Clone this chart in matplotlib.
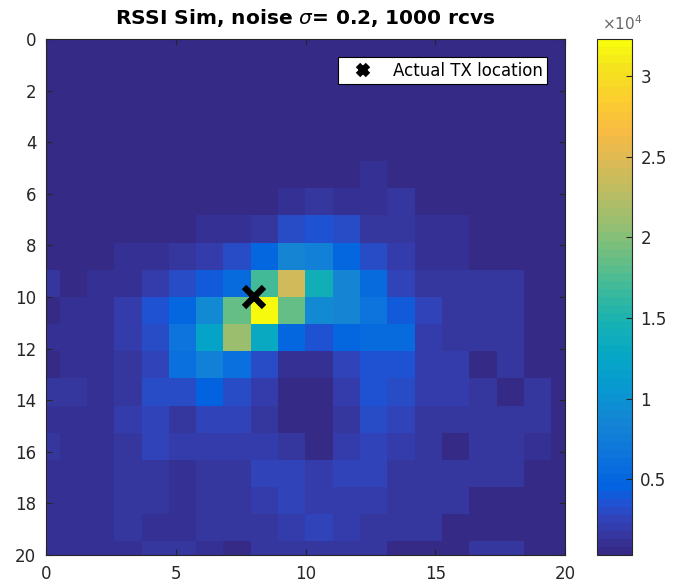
import numpy as np
import matplotlib
matplotlib.use("Agg")
import matplotlib.pyplot as plt
from matplotlib.colors import LinearSegmentedColormap

# received-signal counts on a 20x20 grid (row = y cell, col = x cell)
counts = [
    [550] * 20,
    [550] * 20,
    [550] * 20,
    [550] * 20,
    [550] * 20,
    [550, 550, 550, 550, 550, 550, 550, 550, 550, 550, 550, 550, 1000, 550, 550, 550, 550, 550, 550, 550],
    [550, 550, 550, 550, 550, 550, 550, 550, 550, 1000, 1400, 1000, 1000, 1400, 550, 550, 550, 550, 550, 550],
    [550, 550, 550, 550, 550, 550, 1000, 1000, 1600, 2900, 3400, 2900, 1400, 1600, 1000, 1000, 550, 550, 550, 550],
    [550, 550, 550, 1000, 1000, 1600, 2100, 2900, 4900, 8400, 7900, 4900, 2900, 2100, 1000, 1000, 550, 550, 550, 550],
    [1400, 550, 1000, 1000, 2100, 2900, 3900, 5400, 16900, 23900, 13900, 8400, 5400, 2300, 1400, 1400, 1400, 1400, 550, 550],
    [300, 1000, 1000, 1900, 3400, 4900, 8900, 18400, 32300, 18400, 8900, 8400, 6400, 3900, 2500, 1400, 1400, 1400, 550, 550],
    [1000, 1000, 1000, 2100, 2900, 6400, 11900, 20900, 12900, 4900, 3400, 4900, 5400, 5400, 2100, 1600, 1600, 1400, 550, 550],
    [300, 1000, 1000, 1600, 2500, 5900, 7900, 5900, 2900, 1000, 1000, 2300, 3400, 3400, 1900, 1900, 550, 1400, 550, 550],
    [1400, 1600, 1000, 1600, 2900, 2900, 4400, 2900, 2100, 300, 300, 1900, 3400, 2900, 1900, 1900, 1400, 300, 1400, 550],
    [1000, 1000, 1000, 2100, 2700, 1600, 2500, 2500, 1600, 300, 300, 1400, 2900, 2700, 1600, 1400, 1400, 1400, 1400, 550],
    [1600, 1000, 1000, 1600, 2700, 2100, 2100, 2100, 1900, 1600, 300, 1900, 2300, 1900, 1400, 300, 1400, 1400, 1000, 550],
    [1000, 1000, 1000, 1600, 1400, 1000, 1600, 1400, 2500, 2500, 2100, 2500, 2300, 1400, 1400, 1400, 1400, 1400, 550, 550],
    [1000, 1000, 1000, 1400, 1600, 1000, 1400, 1400, 2100, 2500, 1900, 1900, 1900, 1400, 1400, 1400, 550, 550, 550, 550],
    [1000, 1000, 1000, 1600, 1000, 1000, 1400, 1400, 1400, 1900, 2500, 1900, 1400, 1400, 1400, 550, 550, 550, 550, 550],
    [1000, 1000, 1000, 1000, 1400, 1400, 1000, 300, 1400, 1400, 1400, 1600, 1400, 550, 550, 550, 1400, 1400, 550, 550],
]

tx_x = [8]
tx_y = [10]

x_ticks = [0, 5, 10, 15, 20]
y_ticks = [0, 2, 4, 6, 8, 10, 12, 14, 16, 18, 20]
cb_ticks = [5000, 10000, 15000, 20000, 25000, 30000]
cb_labels = ["0.5", "1", "1.5", "2", "2.5", "3"]

# parula (MATLAB default) anchor colours
parula_pos = [0, 2, 4, 6, 8, 12, 16, 20, 24, 28, 32, 36, 40, 44, 48, 52, 56, 60, 63]
parula_rgb = [
    (0.2081, 0.1663, 0.5292), (0.2123, 0.2138, 0.6270), (0.1959, 0.2645, 0.7279),
    (0.1253, 0.3242, 0.8303), (0.0117, 0.3875, 0.8820), (0.0498, 0.4586, 0.8641),
    (0.0793, 0.5200, 0.8312), (0.0343, 0.5966, 0.8199), (0.0228, 0.6535, 0.7768),
    (0.0843, 0.6928, 0.7062), (0.2178, 0.7250, 0.6193), (0.3953, 0.7459, 0.5244),
    (0.5709, 0.7485, 0.4494), (0.7184, 0.7411, 0.3905), (0.8507, 0.7299, 0.3360),
    (0.9739, 0.7314, 0.2666), (0.9880, 0.8066, 0.1794), (0.9589, 0.8949, 0.1132),
    (0.9763, 0.9831, 0.0538),
]
parula = LinearSegmentedColormap.from_list(
    "parula", [(p / 63, c) for p, c in zip(parula_pos, parula_rgb)], N=64)

grey = "#262626"
plt.rcParams["font.family"] = "DejaVu Sans"

fig = plt.figure(figsize=(6.81, 5.88), dpi=100)
ax = fig.add_axes([46 / 681, 1 - 555 / 588, 519 / 681, 516 / 588])

data = np.array(counts)
n = data.shape[0]
half = 10 / (n - 1)
im = ax.imshow(data, cmap=parula, extent=(-half, 20 + half, 20 + half, -half),
               aspect="auto", interpolation="nearest")
ax.set_xlim(0, 20)
ax.set_ylim(20, 0)

ax.plot(tx_x, tx_y, "kx", markersize=15, markeredgewidth=4.5,
        label="Actual TX location")

ax.set_xticks(x_ticks)
ax.set_yticks(y_ticks)
ax.tick_params(direction="in", top=True, right=True, length=4, width=0.8,
               colors=grey, labelsize=12, labelcolor=grey, pad=7)
for s in ax.spines.values():
    s.set_color(grey)
    s.set_linewidth(0.8)

ax.set_title(r"RSSI Sim, noise $\sigma$= 0.2, 1000 rcvs",
             fontsize=14.5, fontweight="bold", color="black", pad=11)

leg = ax.legend(loc="upper right", fontsize=12, fancybox=False,
                framealpha=1, edgecolor="black", borderaxespad=1.1,
                borderpad=0.25, handlelength=2.6, handletextpad=0.45,
                markerscale=0.5)
leg.get_frame().set_linewidth(0.8)

cax = fig.add_axes([597 / 681, 1 - 555 / 588, 35 / 681, 516 / 588])
cb = fig.colorbar(im, cax=cax, ticks=cb_ticks)
cb.ax.set_yticklabels(cb_labels)
cb.ax.tick_params(direction="in", length=4, width=0.8, colors=grey,
                  labelsize=12, labelcolor=grey, pad=6)
cb.outline.set_edgecolor(grey)
cb.outline.set_linewidth(0.8)
cax.text(0.15, 1.012, r"$\times10^{4}$", transform=cax.transAxes,
         ha="left", va="bottom", fontsize=11, color="#666666")

fig.savefig("out.png", dpi=100)
